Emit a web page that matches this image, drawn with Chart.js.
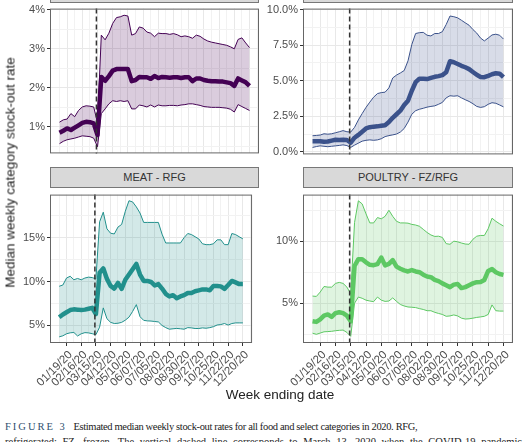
<!DOCTYPE html>
<html>
<head>
<meta charset="utf-8">
<script src="https://cdn.jsdelivr.net/npm/chart.js@4.4.1/dist/chart.umd.min.js"></script>
<style>
  body { margin: 0; width: 530px; height: 442px; overflow: hidden; background: #fff; position: relative; font-family: 'Liberation Sans', Arial, sans-serif; font-weight: normal; }
  .panel { position: absolute; }
  .strip { position: absolute; background: #d9d9d9; border: 1px solid #777; box-sizing: border-box; font-size: 11px; color: #333; text-align: center; line-height: 19px; }
  .ytitle { position: absolute; left: -140px; top: 165px; width: 300px; text-align: center; transform: rotate(-90deg); font-size: 13.5px; color: #222; }
  .xtitle { position: absolute; left: 180px; top: 387px; width: 200px; text-align: center; font-size: 13.5px; color: #222; }
  .caption { position: absolute; left: 5px; top: 419px; width: 517px; font-family: 'Liberation Serif', 'Times New Roman', serif; font-size: 10.5px; line-height: 15px; color: #222; }
  .caption .l1 { white-space: nowrap; }
  .caption .l1 span { letter-spacing: -0.35px; }
  .caption .l2 { text-align: justify; text-align-last: justify; }
  .caption b { font-weight: normal; color: #2f4f6f; letter-spacing: 2px; margin-right: 4px; }
</style>
</head>
<body>
<div class="strip" style="left:50px; top:-18px; width:209px; height:21px;"></div>
<div class="strip" style="left:303px; top:-18px; width:210px; height:21px;"></div>
<div class="strip" style="left:50px; top:167px; width:209px; height:21px;">MEAT - RFG</div>
<div class="strip" style="left:303px; top:167px; width:210px; height:21px;">POULTRY - FZ/RFG</div>

<div class="panel" style="left:0; top:0;"><canvas id="allFood" width="262" height="162"></canvas></div>
<div class="panel" style="left:262px; top:0;"><canvas id="otherCat" width="268" height="163"></canvas></div>
<div class="panel" style="left:0; top:186px;"><canvas id="meat" width="262" height="214"></canvas></div>
<div class="panel" style="left:262px; top:186px;"><canvas id="poultry" width="268" height="214"></canvas></div>

<div class="ytitle">Median weekly category stock-out rate</div>
<div class="xtitle">Week ending date</div>
<div class="caption">
  <div class="l1"><b>FIGURE 3</b> <span>Estimated median weekly stock-out rates for all food and select categories in 2020. RFG,</span></div>
  <div class="l2">refrigerated; FZ, frozen. The vertical dashed line corresponds to March 13, 2020 when the COVID-19 pandemic</div>
</div>

<script>
// weekly series: week ending 01/05/20 ... 12/20/20 (51 weeks)
const firstWeek = Date.UTC(2020, 0, 5)
const weekCount = 51
const covidDate = Date.UTC(2020, 2, 13)

const tickLabels = ['01/19/20', '02/16/20', '03/15/20', '04/12/20', '05/10/20', '06/07/20',
  '07/05/20', '08/02/20', '08/30/20', '09/27/20', '10/25/20', '11/22/20', '12/20/20']

// all food (top left)
const allFoodMedian = [0.85, 0.90, 0.96, 0.92, 0.98, 1.04, 1.10, 1.13, 1.12, 1.09,
  0.79, 2.28, 2.18, 2.30, 2.44, 2.48, 2.48, 2.48, 2.48, 2.17,
  2.20, 2.28, 2.27, 2.27, 2.23, 2.30, 2.25, 2.28, 2.27, 2.26,
  2.27, 2.27, 2.25, 2.27, 2.27, 2.17, 2.24, 2.24, 2.20, 2.18,
  2.17, 2.17, 2.16, 2.16, 2.14, 2.12, 2.05, 2.24, 2.19, 2.14, 2.05]
const allFoodUpper = [1.12, 1.18, 1.20, 1.34, 1.26, 1.42, 1.51, 1.54, 1.53, 1.51,
  1.10, 3.35, 3.23, 3.40, 3.65, 3.80, 3.82, 3.86, 3.84, 3.35,
  3.39, 3.56, 3.53, 3.43, 3.40, 3.31, 3.40, 3.39, 3.39, 3.37,
  3.39, 3.36, 3.31, 3.33, 3.31, 3.27, 3.35, 3.32, 3.25, 3.20,
  3.17, 3.15, 3.13, 3.11, 3.09, 3.05, 3.00, 3.24, 3.28, 3.15, 3.03]
const allFoodLower = [0.57, 0.63, 0.67, 0.69, 0.71, 0.74, 0.77, 0.76, 0.75, 0.71,
  0.49, 1.34, 1.46, 1.59, 1.67, 1.65, 1.67, 1.65, 1.67, 1.46,
  1.46, 1.56, 1.54, 1.51, 1.56, 1.51, 1.56, 1.54, 1.54, 1.55,
  1.55, 1.54, 1.56, 1.57, 1.59, 1.59, 1.57, 1.55, 1.52, 1.51,
  1.50, 1.50, 1.50, 1.49, 1.48, 1.45, 1.38, 1.57, 1.52, 1.47, 1.42]
const allFoodTicks = [1, 2, 3, 4]
const allFoodTickLabels = ['1%', '2%', '3%', '4%']

// top right category
const otherMedian = [0.76, 0.76, 0.76, 0.72, 0.74, 0.80, 0.86, 0.84, 0.86, 0.84,
  0.65, 1.00, 1.20, 1.42, 1.65, 1.74, 1.78, 1.80, 1.84, 1.88,
  2.10, 2.40, 2.65, 2.90, 3.30, 3.60, 4.30, 4.90, 5.15, 5.15,
  5.12, 5.20, 5.28, 5.33, 5.40, 5.60, 6.37, 6.30, 6.18, 6.05,
  5.95, 5.82, 5.62, 5.42, 5.27, 5.25, 5.35, 5.46, 5.53, 5.50, 5.25]
const otherUpper = [1.14, 1.16, 1.19, 1.28, 1.25, 1.28, 1.35, 1.42, 1.50, 1.42,
  1.40, 1.73, 2.25, 2.70, 3.13, 3.50, 3.85, 4.10, 4.17, 4.20,
  4.50, 5.20, 5.40, 5.55, 5.72, 6.40, 7.55, 8.32, 8.38, 8.40,
  8.20, 8.15, 8.32, 8.32, 8.45, 8.95, 9.55, 9.50, 9.42, 9.25,
  9.07, 8.90, 8.60, 8.35, 8.00, 7.80, 8.00, 8.22, 8.27, 8.20, 7.93]
const otherLower = [0.32, 0.38, 0.43, 0.40, 0.37, 0.40, 0.43, 0.46, 0.50, 0.45,
  0.32, 0.48, 0.62, 0.76, 0.82, 0.85, 0.82, 0.85, 0.93, 1.08,
  1.15, 1.20, 1.26, 1.40, 1.65, 2.10, 2.65, 2.90, 3.00, 3.07,
  3.15, 3.20, 3.24, 3.35, 3.48, 3.80, 3.95, 3.92, 3.95, 3.80,
  3.67, 3.55, 3.39, 3.20, 3.13, 3.18, 3.35, 3.46, 3.42, 3.30, 3.17]
const otherTicks = [0, 2.5, 5, 7.5, 10]
const otherTickLabels = ['0.0%', '2.5%', '5.0%', '7.5%', '10.0%']

// MEAT - RFG
const meatMedian = [5.93, 6.25, 6.50, 6.75, 6.83, 6.80, 6.76, 6.80, 6.90, 7.00,
  6.30, 11.0, 11.5, 10.3, 9.50, 9.20, 9.85, 9.17, 10.2, 10.8,
  11.4, 12.0, 10.8, 10.07, 10.07, 9.95, 9.55, 9.71, 9.20, 8.60,
  8.30, 8.45, 8.10, 8.30, 8.45, 8.70, 8.70, 8.90, 9.00, 9.10,
  9.10, 9.00, 9.50, 9.50, 9.45, 9.17, 9.60, 10.07, 9.90, 9.71, 9.71]
const meatUpper = [9.46, 9.60, 10.4, 10.6, 10.2, 10.35, 10.2, 10.4, 10.5, 10.45,
  10.3, 16.8, 17.9, 16.0, 15.5, 15.42, 16.2, 16.5, 18.0, 19.2,
  19.06, 18.5, 17.8, 16.73, 16.73, 16.73, 16.73, 16.73, 15.4, 14.39,
  14.39, 14.39, 14.39, 14.39, 15.0, 15.47, 15.35, 15.1, 14.85, 14.3,
  14.2, 14.2, 14.3, 14.75, 14.75, 14.2, 14.2, 15.47, 15.35, 15.1, 14.86]
const meatLower = [3.70, 3.82, 4.05, 4.16, 4.20, 3.80, 4.05, 4.18, 4.15, 4.06,
  3.95, 4.80, 7.00, 5.76, 5.35, 5.22, 5.25, 5.35, 5.60, 5.94,
  6.60, 7.37, 6.00, 5.58, 5.52, 5.50, 5.45, 5.40, 5.00, 4.75,
  4.57, 4.62, 4.66, 4.62, 4.57, 4.75, 4.72, 4.65, 4.65, 4.72,
  4.68, 4.75, 4.86, 5.05, 5.10, 5.22, 5.04, 5.22, 5.29, 5.29, 5.29]
const meatTicks = [5, 10, 15]
const meatTickLabels = ['5%', '10%', '15%']

// POULTRY - FZ/RFG
const poultryMedian = [3.55, 3.50, 3.70, 4.00, 4.10, 3.90, 4.20, 4.28, 4.20, 4.00,
  3.55, 8.00, 8.55, 8.55, 8.30, 8.10, 8.07, 8.15, 8.68, 8.05,
  8.17, 8.48, 7.95, 7.78, 7.65, 7.56, 7.67, 7.56, 7.50, 7.30,
  7.15, 7.10, 6.88, 6.78, 6.60, 6.45, 6.30, 6.50, 6.55, 6.22,
  6.30, 6.45, 6.60, 6.70, 6.72, 6.88, 7.60, 7.75, 7.50, 7.36, 7.28]
const poultryUpper = [5.58, 5.55, 5.90, 6.35, 6.30, 6.30, 6.60, 6.68, 6.60, 6.30,
  5.76, 11.5, 13.25, 13.0, 12.2, 11.47, 11.47, 11.9, 11.8, 12.0,
  12.49, 12.0, 11.6, 11.47, 11.47, 11.45, 11.35, 11.3, 11.2, 10.95,
  10.7, 10.5, 10.38, 10.4, 10.3, 9.80, 9.75, 10.0, 9.95, 9.85,
  9.77, 9.75, 10.15, 10.4, 10.46, 10.46, 11.0, 11.85, 11.6, 11.4, 11.22]
const poultryLower = [2.59, 2.50, 2.60, 2.70, 2.72, 2.74, 2.79, 2.82, 2.84, 2.65,
  2.34, 5.00, 5.50, 5.40, 5.25, 5.18, 5.13, 5.50, 5.25, 5.15,
  5.18, 5.43, 5.15, 4.90, 4.78, 4.70, 4.68, 4.65, 4.57, 4.50,
  4.40, 4.40, 4.27, 4.18, 4.10, 3.95, 3.98, 4.06, 3.98, 3.80,
  3.73, 3.75, 3.80, 3.86, 3.90, 3.95, 4.10, 4.87, 4.40, 4.37, 4.37]
const poultryTicks = [5, 10]
const poultryTickLabels = ['5%', '10%']

const weekMs = 7 * 24 * 3600 * 1000
const weeks = Array.from({ length: weekCount }, (_, i) => i)
const covidWeek = (covidDate - firstWeek) / weekMs

const fontFamily = "'Liberation Sans', Arial, sans-serif"

// dashed covid line + panel border
const panelDecor = {
  id: 'panelDecor',
  afterDatasetsDraw(chart) {
    const { ctx, chartArea: a } = chart
    const px = chart.scales.x.getPixelForValue(covidWeek)
    ctx.save()
    ctx.strokeStyle = '#333'
    ctx.lineWidth = 1.5
    ctx.setLineDash([5, 3])
    ctx.beginPath()
    ctx.moveTo(px, a.top)
    ctx.lineTo(px, a.bottom)
    ctx.stroke()
    ctx.setLineDash([])
    ctx.strokeStyle = '#666'
    ctx.lineWidth = 1
    ctx.strokeRect(a.left + 0.5, a.top + 0.5, a.width - 1, a.height - 1)
    ctx.restore()
  }
}

function makePanel(id, p) {
  const xMajor = tickLabels.map((_, i) => 2 + 4 * i)
  const xAll = []
  for (let w = 0; w <= 52; w += 2) xAll.push(w)

  const step = p.ticks[1] - p.ticks[0]
  const yAll = []
  for (let v = p.ticks[0] - step / 2; v <= p.yMax; v += step / 2) {
    if (v >= p.yMin) yAll.push(v)
  }
  const isMajorY = (v) => p.ticks.some((t) => Math.abs(t - v) < 1e-6)

  const pts = (arr) => weeks.map((w) => ({ x: w, y: arr[w] }))

  new Chart(document.getElementById(id), {
    type: 'line',
    data: {
      datasets: [
        { data: pts(p.upper), borderColor: p.color, borderWidth: 1, backgroundColor: p.fill, fill: 1, order: 2 },
        { data: pts(p.lower), borderColor: p.color, borderWidth: 1, fill: false, order: 1 },
        { data: pts(p.median), borderColor: p.color, borderWidth: 4.5, fill: false, order: 0 },
      ],
    },
    options: {
      responsive: false,
      animation: false,
      layout: { padding: { top: p.padTop, right: p.padRight, left: 0, bottom: 0 } },
      elements: {
        point: { radius: 0 },
        line: { tension: 0, borderJoinStyle: 'round' },
      },
      plugins: { legend: { display: false }, tooltip: { enabled: false } },
      scales: {
        x: {
          type: 'linear',
          min: -2.5,
          max: 52.5,
          afterBuildTicks: (axis) => { axis.ticks = xAll.map((v) => ({ value: v })) },
          afterFit: (axis) => { axis.height = p.xHeight },
          border: { display: false },
          grid: {
            color: (c) => (xMajor.includes(c.tick.value) ? '#e8e8e8' : '#f2f2f2'),
            tickColor: (c) => (xMajor.includes(c.tick.value) ? '#333' : 'rgba(0,0,0,0)'),
            drawTicks: p.showX,
            tickLength: 3,
          },
          ticks: {
            display: p.showX,
            autoSkip: false,
            minRotation: 45,
            maxRotation: 45,
            padding: 2,
            labelOffset: 4,
            color: '#4d4d4d',
            font: { family: fontFamily, size: 11.5 },
            callback: (v) => (xMajor.includes(v) ? tickLabels[(v - 2) / 4] : ''),
          },
        },
        y: {
          min: p.yMin,
          max: p.yMax,
          afterBuildTicks: (axis) => { axis.ticks = yAll.map((v) => ({ value: v })) },
          afterFit: (axis) => { axis.width = p.yWidth },
          border: { display: false },
          grid: {
            color: (c) => (isMajorY(c.tick.value) ? '#e8e8e8' : '#f2f2f2'),
            tickColor: (c) => (isMajorY(c.tick.value) ? '#333' : 'rgba(0,0,0,0)'),
            tickLength: 3,
          },
          ticks: {
            padding: 2,
            color: '#4d4d4d',
            font: { family: fontFamily, size: 11 },
            callback: (v) => {
              const i = p.ticks.findIndex((t) => Math.abs(t - v) < 1e-6)
              return i >= 0 ? p.labels[i] : ''
            },
          },
        },
      },
    },
    plugins: [panelDecor],
  })
}

makePanel('allFood', {
  median: allFoodMedian, upper: allFoodUpper, lower: allFoodLower,
  ticks: allFoodTicks, labels: allFoodTickLabels, yMin: 0.32, yMax: 4.03,
  color: '#440154', fill: 'rgba(68,1,84,0.2)',
  yWidth: 50, padRight: 3, padTop: 3, xHeight: 3, showX: false,
})
makePanel('otherCat', {
  median: otherMedian, upper: otherUpper, lower: otherLower,
  ticks: otherTicks, labels: otherTickLabels, yMin: -0.17, yMax: 10.07,
  color: '#3b528b', fill: 'rgba(59,82,139,0.2)',
  yWidth: 41, padRight: 17, padTop: 3, xHeight: 3, showX: false,
})
makePanel('meat', {
  median: meatMedian, upper: meatUpper, lower: meatLower,
  ticks: meatTicks, labels: meatTickLabels, yMin: 3.0, yMax: 19.9,
  color: '#21908c', fill: 'rgba(33,144,140,0.2)',
  yWidth: 50, padRight: 3, padTop: 2, xHeight: 57, showX: true,
})
makePanel('poultry', {
  median: poultryMedian, upper: poultryUpper, lower: poultryLower,
  ticks: poultryTicks, labels: poultryTickLabels, yMin: 1.8, yMax: 13.75,
  color: '#5dc863', fill: 'rgba(93,200,99,0.2)',
  yWidth: 41, padRight: 17, padTop: 2, xHeight: 57, showX: true,
})
</script>
</body>
</html>
